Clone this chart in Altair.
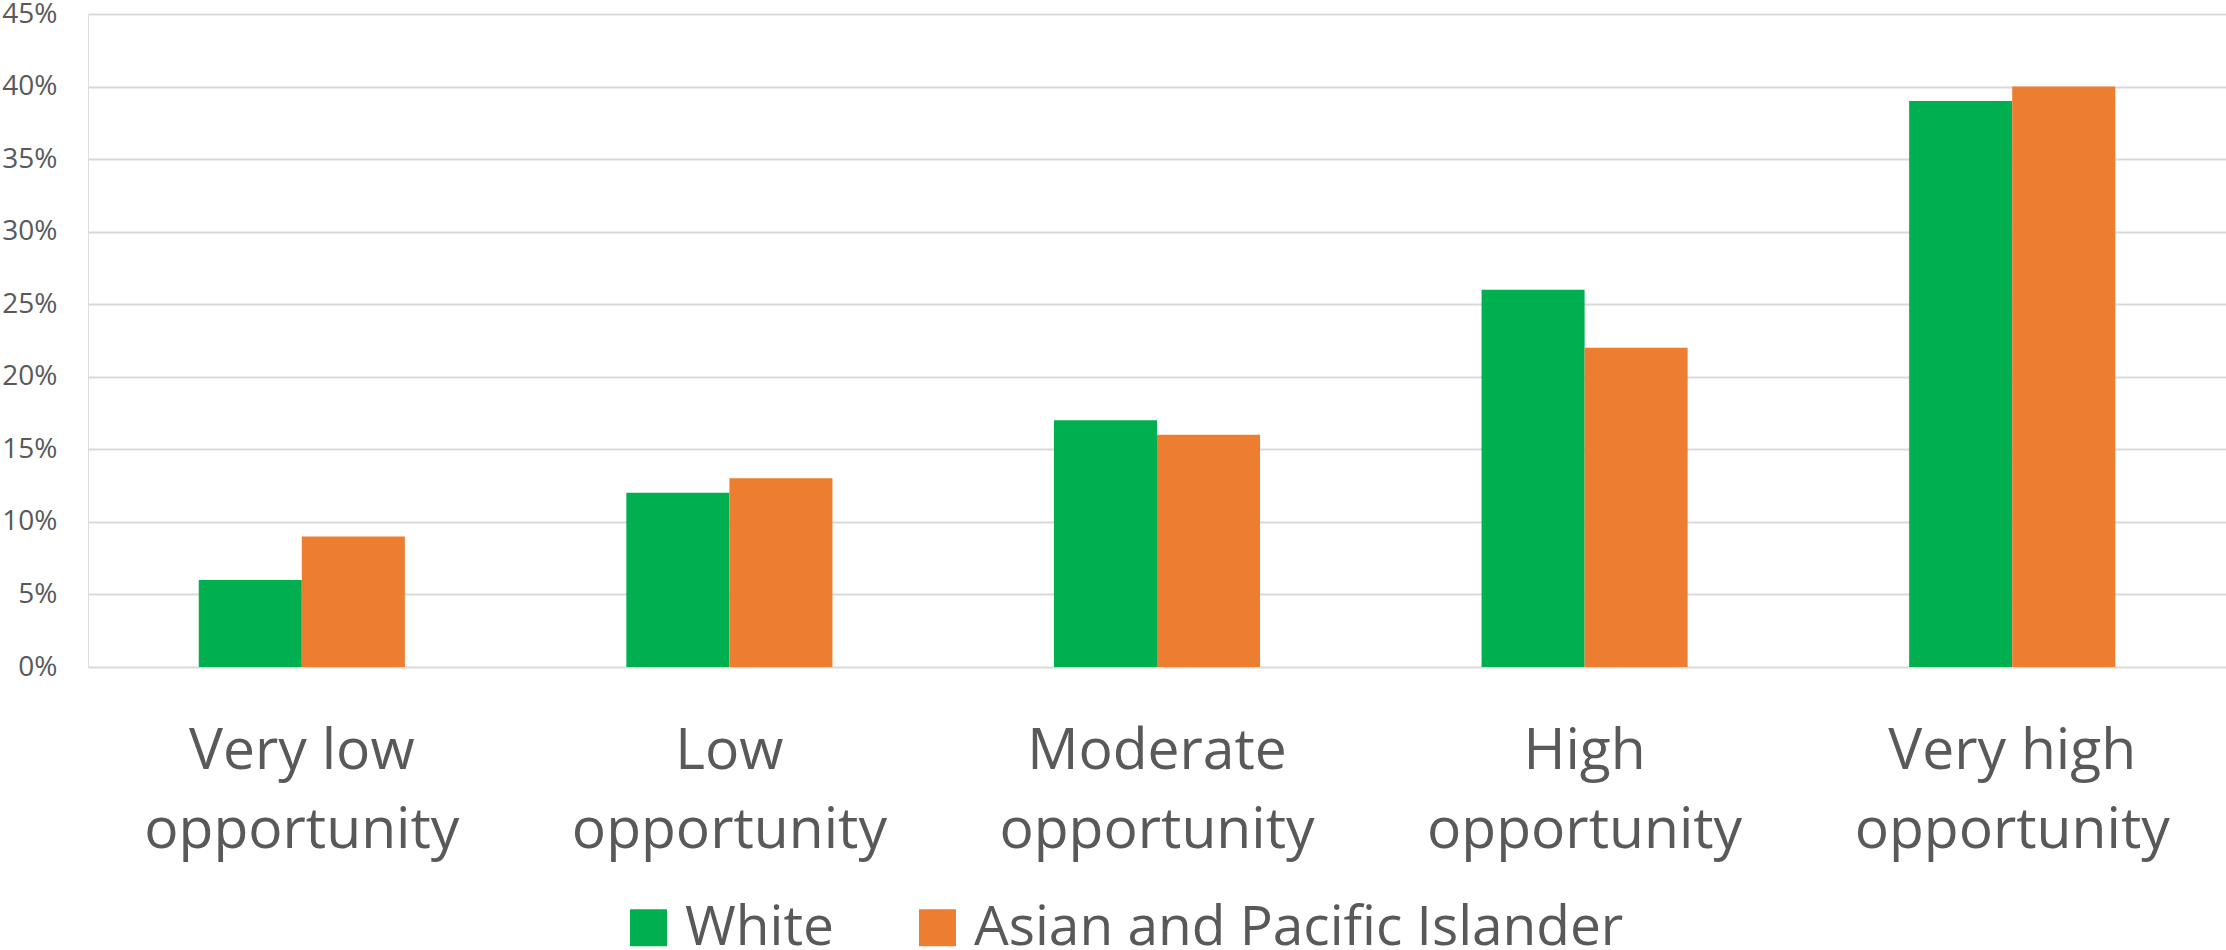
import altair as alt
import pandas as pd

categories = ["Very low|opportunity", "Low|opportunity", "Moderate|opportunity",
              "High|opportunity", "Very high|opportunity"]
series = ["White", "Asian and Pacific Islander"]
white = [0.06, 0.12, 0.17, 0.26, 0.39]
asian = [0.09, 0.13, 0.16, 0.22, 0.40]
y_ticks = [0, 0.05, 0.10, 0.15, 0.20, 0.25, 0.30, 0.35, 0.40, 0.45]
colors = ["#00B050", "#ED7D31"]

rows = []
for c, w, a in zip(categories, white, asian):
    rows.append({"cat": c, "series": series[0], "value": w})
    rows.append({"cat": c, "series": series[1], "value": a})
df = pd.DataFrame(rows)

FONT = "Open Sans"
GREY = "#595959"

chart = alt.Chart(df).mark_bar().encode(
    x=alt.X("cat:N", sort=categories,
            scale=alt.Scale(paddingInner=0.518, paddingOuter=0.259),
            axis=alt.Axis(title=None, labelAngle=0, domain=False, ticks=False, tickSize=0,
                          labelExpr="split(datum.label, '|')",
                          labelFont=FONT, labelFontSize=57, labelColor=GREY,
                          labelLineHeight=79, labelBaseline="alphabetic",
                          labelPadding=101, labelLimit=1000, grid=False)),
    xOffset=alt.XOffset("series:N", sort=series, scale=alt.Scale(paddingInner=0, paddingOuter=0)),
    y=alt.Y("value:Q",
            scale=alt.Scale(domain=[0, 0.45], nice=False),
            axis=alt.Axis(title=None, values=y_ticks, format=".0%", domain=False,
                          ticks=False, tickSize=0, labelPadding=31,
                          labelFont=FONT, labelFontSize=28, labelColor=GREY,
                          gridColor="#D9D9D9", gridWidth=2)),
    color=alt.Color("series:N", sort=series,
                    scale=alt.Scale(domain=series, range=colors),
                    legend=alt.Legend(title=None, orient="none", direction="horizontal",
                                      legendX=533, legendY=886,
                                      symbolType="square", symbolSize=1369,
                                      symbolStrokeWidth=0,
                                      labelFont=FONT, labelFontSize=55, labelColor=GREY,
                                      labelOffset=9, columnPadding=76,
                                      labelLimit=2000, padding=0)),
).properties(
    width=2138,
    height=653,
    autosize=alt.AutoSizeParams(type="none"),
    padding={"left": 88, "top": 14, "right": 0, "bottom": 283},
).configure_view(stroke=None).configure(background="white")

chart.save("out.html", embed_options={"renderer": "svg", "actions": False})
